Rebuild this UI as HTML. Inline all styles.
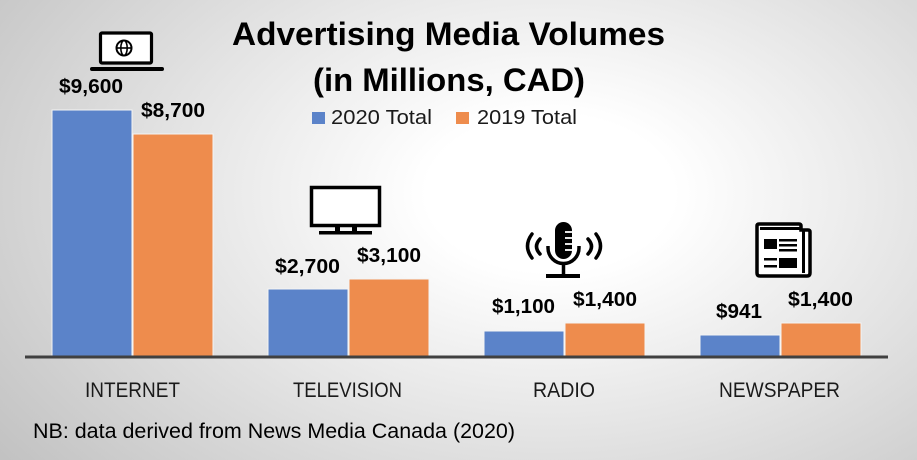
<!DOCTYPE html>
<html><head><meta charset="utf-8"><style>
html,body{margin:0;padding:0;}
body{width:917px;height:460px;overflow:hidden;background:radial-gradient(ellipse 75% 95% at 60% 42%, #ffffff 0%, #ffffff 18%, #e4e4e4 55%, #c2c2c2 100%);}
svg{display:block;font-family:"Liberation Sans",sans-serif;}
</style></head><body>
<svg width="917" height="460" viewBox="0 0 917 460" xmlns="http://www.w3.org/2000/svg">
<!-- title -->
<text x="232" y="45" font-size="32" font-weight="bold" textLength="433" lengthAdjust="spacingAndGlyphs" fill="#000">Advertising Media Volumes</text>
<text x="313" y="91" font-size="32" font-weight="bold" textLength="272" lengthAdjust="spacingAndGlyphs" fill="#000">(in Millions, CAD)</text>
<!-- legend -->
<rect x="312" y="112" width="13" height="12" fill="#5b83c9"/>
<text x="331" y="124" font-size="20" textLength="101" lengthAdjust="spacingAndGlyphs" fill="#1a1a1a">2020 Total</text>
<rect x="456" y="112" width="13" height="12" fill="#ee8c4d"/>
<text x="477" y="124" font-size="20" textLength="100" lengthAdjust="spacingAndGlyphs" fill="#1a1a1a">2019 Total</text>
<!-- bars -->
<g stroke="#f4f4f4" stroke-width="1">
<rect x="52" y="110" width="80" height="247" fill="#5b83c9"/>
<rect x="133" y="134" width="80" height="223" fill="#ee8c4d"/>
<rect x="268" y="289" width="80" height="68" fill="#5b83c9"/>
<rect x="349" y="279" width="80" height="78" fill="#ee8c4d"/>
<rect x="484" y="331" width="80" height="26" fill="#5b83c9"/>
<rect x="565" y="323" width="80" height="34" fill="#ee8c4d"/>
<rect x="700" y="335" width="80" height="22" fill="#5b83c9"/>
<rect x="781" y="323" width="80" height="34" fill="#ee8c4d"/>
</g>
<line x1="25" y1="357" x2="888" y2="357" stroke="#404040" stroke-width="3"/>
<!-- data labels -->
<g font-size="20" font-weight="bold" fill="#000">
<text x="59" y="93" textLength="64" lengthAdjust="spacingAndGlyphs">$9,600</text>
<text x="141" y="117" textLength="64" lengthAdjust="spacingAndGlyphs">$8,700</text>
<text x="275" y="273" textLength="65" lengthAdjust="spacingAndGlyphs">$2,700</text>
<text x="357" y="262" textLength="64" lengthAdjust="spacingAndGlyphs">$3,100</text>
<text x="492" y="313" textLength="63" lengthAdjust="spacingAndGlyphs">$1,100</text>
<text x="573" y="306" textLength="64" lengthAdjust="spacingAndGlyphs">$1,400</text>
<text x="716" y="318" textLength="46" lengthAdjust="spacingAndGlyphs">$941</text>
<text x="788" y="306" textLength="65" lengthAdjust="spacingAndGlyphs">$1,400</text>
</g>
<!-- category labels -->
<g font-size="21" fill="#1a1a1a">
<text x="85" y="397" textLength="95" lengthAdjust="spacingAndGlyphs">INTERNET</text>
<text x="293" y="397" textLength="109" lengthAdjust="spacingAndGlyphs">TELEVISION</text>
<text x="533" y="397" textLength="62" lengthAdjust="spacingAndGlyphs">RADIO</text>
<text x="719" y="397" textLength="121" lengthAdjust="spacingAndGlyphs">NEWSPAPER</text>
</g>
<text x="33" y="438" font-size="21" fill="#000" textLength="482" lengthAdjust="spacingAndGlyphs">NB: data derived from News Media Canada (2020)</text>
<!-- laptop icon -->
<g fill="none" stroke="#000">
<rect x="100.5" y="33" width="51" height="30" rx="1.5" stroke-width="3.2" fill="#fff"/>
<circle cx="124" cy="48" r="7.5" stroke-width="2"/>
<ellipse cx="124" cy="48" rx="3.2" ry="7.5" stroke-width="1.6"/>
<line x1="116.5" y1="48" x2="131.5" y2="48" stroke-width="1.6"/>
</g>
<rect x="90" y="67" width="74" height="4" rx="2" fill="#000"/>
<!-- TV icon -->
<rect x="311.5" y="187.5" width="68" height="38" fill="#fff" stroke="#000" stroke-width="3.5"/>
<rect x="335" y="226" width="5" height="6" fill="#000"/>
<rect x="352" y="226" width="5" height="6" fill="#000"/>
<rect x="319" y="231" width="53" height="3.5" fill="#000"/>
<!-- mic icon -->
<rect x="555" y="222" width="17" height="37" rx="8.5" fill="#000"/>
<g stroke="#fff" stroke-width="1.8">
<line x1="565" y1="232" x2="573" y2="232"/>
<line x1="565" y1="238" x2="573" y2="238"/>
<line x1="565" y1="244" x2="573" y2="244"/>
<line x1="565" y1="250" x2="573" y2="250"/>
</g>
<path d="M548 246 v2 a15.5 15.5 0 0 0 31 0 v-2" fill="none" stroke="#000" stroke-width="3.5"/>
<line x1="563.5" y1="263" x2="563.5" y2="275" stroke="#000" stroke-width="3.5"/>
<rect x="546" y="274" width="34" height="4" fill="#000"/>
<g fill="none" stroke="#000" stroke-width="3.5" stroke-linecap="round">
<path d="M540 239 Q533 246.5 540 254"/>
<path d="M532 234 Q523 246 532 258"/>
<path d="M588 239 Q595 246.5 588 254"/>
<path d="M596 234 Q605 246 596 258"/>
</g>
<!-- newspaper icon -->
<path d="M757 226 Q757 224 759 224 L799 224 Q801 224 801 226 L801 230 L808 230 Q810 230 810 232 L810 273 Q810 276 807 276 L760 276 Q757 276 757 273 Z" fill="#fff" stroke="#000" stroke-width="3.5"/>
<line x1="803.5" y1="230" x2="803.5" y2="273" stroke="#000" stroke-width="3"/>
<rect x="760" y="227" width="41" height="3" fill="#000"/>
<rect x="764" y="239" width="13" height="10" fill="#000"/>
<rect x="779" y="239" width="18" height="2.5" fill="#000"/>
<rect x="779" y="244" width="18" height="2.5" fill="#000"/>
<rect x="779" y="249" width="18" height="2.5" fill="#000"/>
<rect x="764" y="258" width="13" height="2.5" fill="#000"/>
<rect x="764" y="265" width="13" height="2.5" fill="#000"/>
<rect x="779" y="258" width="18" height="10" fill="#000"/>
</svg>
</body></html>
